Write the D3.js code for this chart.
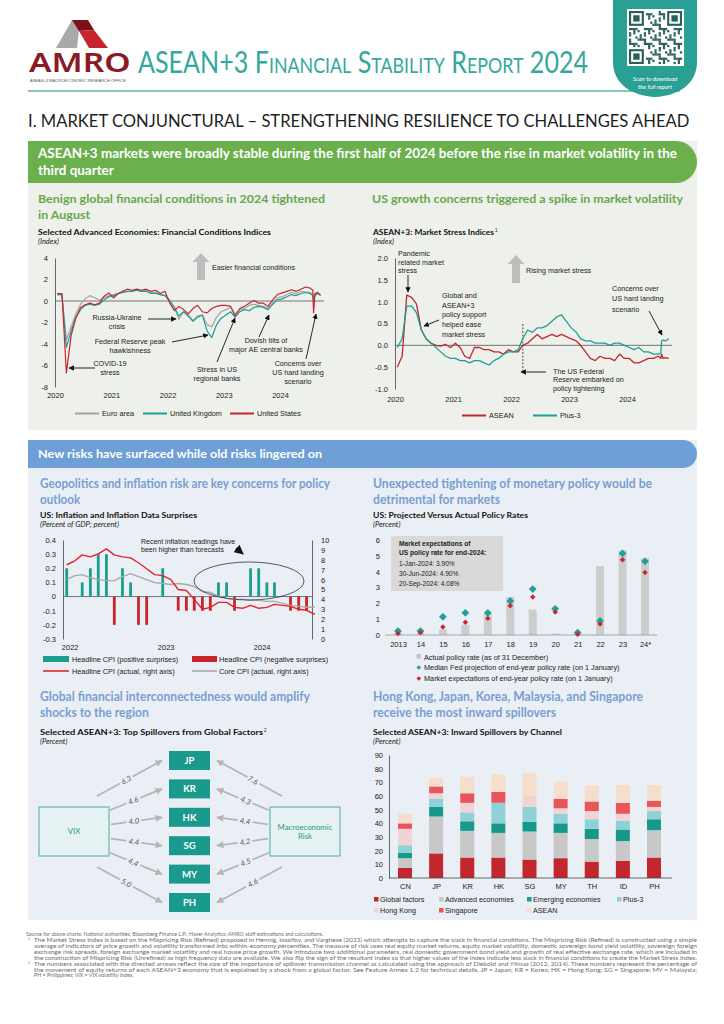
<!DOCTYPE html>
<html>
<head>
<meta charset="utf-8">
<script src="https://cdn.jsdelivr.net/npm/d3@7"></script>
<style>
  body { margin: 0; background: #fff; }
  svg { display: block; }
</style>
</head>
<body>
<script>
// ---------- data ----------
// financial conditions indices: mid-month 2020-01 .. 2024-07, then the Aug/Sep 2024 points
var fciTicks = [-8, -6, -4, -2, 0, 2, 4];
var fciEuro = [0.6, 0.6, -3.6, -2.4, -1.2, -0.3, 0.2, 0.5, 0.3, 0.1, 0.3, 0.5,
  0.6, 0.7, 0.8, 0.9, 0.9, 1.0, 0.9, 1.0, 0.8, 0.8, 0.6, 0.5,
  0.1, -0.6, -1.7, -1.0, -1.3, -1.8, -1.4, -1.3, -2.2, -2.4, -1.5, -1.0,
  -0.8, -0.6, -1.2, -0.8, -0.7, -0.4, -0.3, -0.4, -0.5, -0.7, -0.2, 0.3,
  0.4, 0.6, 0.8, 0.7, 0.9, 0.8, 0.8, 0.6, 0.2, 0.6, 0.7, 0.6];
var fciUK = [0.6, 0.6, -4.3, -2.8, -1.5, -0.8, -0.4, -0.3, -0.4, -0.3, 0.1, 0.4,
  0.5, 0.7, 0.8, 0.9, 0.9, 1.0, 0.9, 0.9, 0.7, 0.7, 0.6, 0.5,
  0.0, -0.6, -1.4, -1.0, -1.4, -1.9, -1.5, -1.3, -2.8, -3.4, -2.2, -1.6,
  -1.3, -1.0, -1.5, -1.0, -0.8, -0.9, -0.6, -0.5, -0.6, -0.8, -0.3, 0.1,
  0.2, 0.4, 0.6, 0.5, 0.7, 0.8, 0.7, 0.5, 0.0, 0.5, 0.7, 0.6];
var fciUS = [0.7, 0.7, -6.7, -3.2, -1.6, -0.6, -0.35, -0.2, -0.35, -0.2, 0.45, 0.75,
  0.3, 0.7, 0.9, 1.1, 1.0, 1.1, 1.0, 1.1, 0.9, 1.0, 0.7, 0.9,
  -0.2, -0.9, -0.5, -0.8, -1.2, -0.7, -0.4, -1.0, -1.1, -0.7, -0.5, -0.4,
  -0.4, -0.5, -1.4, -0.7, -0.5, -0.2, 0.05, -0.2, -0.2, -0.5, 0.1, 0.6,
  0.75, 0.9, 1.05, 0.9, 1.1, 1.3, 1.2, 1.0, -1.1, 0.7, 0.8, 0.5];

// market stress indices, same dates
var msiTicks = [-1, -0.5, 0, 0.5, 1, 1.5, 2];
var msiASEAN = [-0.5, -0.25, 1.15, 1.1, 0.95, 0.35, 0.15, 0.05, 0.0, -0.02, 0.02, -0.05,
  0.05, -0.05, -0.25, -0.3, -0.05, -0.05, -0.1, -0.1, -0.15, -0.15, -0.2, -0.1,
  -0.15, -0.15, 0.0, 0.05, 0.15, 0.25, 0.15, 0.2, 0.25, 0.2, 0.25, 0.2,
  0.15, 0.1, 0.0, -0.15, -0.3, -0.35, -0.25, -0.3, -0.3, -0.35, -0.2, -0.3,
  -0.3, -0.4, -0.4, -0.35, -0.3, -0.3, -0.25, -0.3, -0.2, -0.3, -0.28, -0.3];
var msiPlus3 = [-0.05, 0.15, 0.9, 0.9, 0.75, 0.35, 0.15, 0.05, -0.05, -0.15, -0.25, -0.3,
  -0.3, -0.35, -0.35, -0.4, -0.35, -0.35, -0.4, -0.45, -0.35, -0.3, -0.2, -0.15,
  -0.15, -0.1, 0.15, 0.35, 0.3, 0.4, 0.4, 0.45, 0.55, 0.65, 0.7, 0.55,
  0.4, 0.3, 0.15, 0.1, 0.1, 0.05, 0.05, 0.05, 0.0, 0.05, 0.05, 0.0,
  -0.05, -0.1, -0.05, -0.15, -0.15, -0.2, -0.2, -0.18, 0.1, 0.12, 0.1, 0.15];

// US CPI, monthly Jan 2022 .. Aug 2024
var cpiSurprise = [0.2, 0, 0.1, 0.2, 0.3, 0.3, -0.2, 0.2, 0.1, -0.2, -0.2, 0,
  0.2, 0, -0.1, -0.1, -0.1, -0.1, -0.1, 0.1, 0.1, -0.1, 0, 0.2,
  0.2, 0.1, 0.1, 0, -0.1, -0.1, -0.1, 0];
var cpiHeadline = [7.5, 7.9, 8.5, 8.3, 8.6, 9.1, 8.5, 8.3, 8.2, 7.7, 7.1, 6.5,
  6.4, 6.0, 5.0, 4.9, 4.0, 3.0, 3.2, 3.7, 3.7, 3.2, 3.1, 3.4,
  3.1, 3.2, 3.5, 3.4, 3.3, 3.0, 2.9, 2.5];
var cpiCore = [6.0, 6.4, 6.5, 6.2, 6.0, 5.9, 5.9, 6.3, 6.6, 6.3, 6.0, 5.7,
  5.6, 5.5, 5.6, 5.5, 5.3, 4.8, 4.7, 4.3, 4.1, 4.0, 4.0, 3.9,
  3.9, 3.8, 3.8, 3.6, 3.4, 3.3, 3.2, 3.2];
var cpiLeftTicks = [-0.3, -0.2, -0.1, 0, 0.1, 0.2, 0.3, 0.4];
var cpiRightTicks = [0, 1, 2, 3, 4, 5, 6, 7, 8, 9, 10];

// policy rates
var prYears = ["2013", "14", "15", "16", "17", "18", "19", "20", "21", "22", "23", "24*"];
var prActual = [0.1, 0.1, 0.35, 0.65, 1.35, 2.4, 1.6, 0.1, 0.1, 4.35, 5.35, 4.85];
var prFed = [0.25, 0.25, 1.15, 1.4, 1.4, 2.15, 2.9, 1.65, 0.15, 0.9, 5.15, 4.65];
var prMarket = [0.1, 0.15, 0.5, 0.8, 1.05, 1.85, 2.4, 1.45, 0.05, 0.7, 4.75, 3.95];
var prTicks = [0, 1, 2, 3, 4, 5, 6];
var prNotes = ["1-Jan-2024: 3.90%", "30-Jun-2024: 4.90%", "20-Sep-2024: 4.08%"];

// top spillovers from global factors
var spillEcon = ["JP", "KR", "HK", "SG", "MY", "PH"];
var spillVix = [6.3, 4.6, 4.0, 4.4, 4.4, 5.0];
var spillMacro = [7.6, 4.3, 4.4, 4.2, 4.5, 4.6];

// inward spillovers by channel
var inEcon = ["CN", "JP", "KR", "HK", "SG", "MY", "TH", "ID", "PH"];
var inNames = ["Global factors", "Advanced economies", "Emerging economies", "Plus-3", "Hong Kong", "Singapore", "ASEAN"];
var inColors = ["#c1272d", "#c8c8c8", "#17998a", "#8fd1d7", "#f2d3d3", "#e8565c", "#f5dfcb"];
var inGlobal = [7.5, 18, 15, 15, 13.5, 14.5, 12, 12.5, 15];
var inAdvanced = [7, 27, 19.5, 18, 20.5, 18.5, 16.5, 14.5, 20];
var inEmerging = [4, 7, 7, 7, 7, 7, 7.5, 8.5, 8];
var inPlus3 = [5.5, 6, 6.5, 15, 11, 7, 7, 6.5, 6];
var inHongKong = [12, 4, 7, 0, 8, 4, 6, 5, 3];
var inSingapore = [4, 5, 7, 8, 0, 7, 7, 8, 4.5];
var inASEAN = [7, 6.5, 12, 13, 17, 12.5, 11.5, 13, 11.5];
var inTicks = [0, 10, 20, 30, 40, 50, 60, 70, 80, 90];

var footSource = "Source for above charts: National authorities; Bloomberg Finance L.P.; Haver Analytics; AMRO staff estimations and calculations.";
var footNote1 = [
  "The Market Stress Index is based on the Mispricing Risk (Refined) proposed in Hennig, Iossifov, and Varghese (2023) which attempts to capture the slack in financial conditions. The Mispricing Risk (Refined) is constructed using a simple",
  "average of indicators of price growth and volatility transformed into within-economy percentiles. The measure of risk uses real equity market returns, equity market volatility, domestic sovereign bond yield volatility, sovereign foreign",
  "exchange risk spreads, foreign exchange market volatility and real house price growth. We introduce two additional parameters, real domestic government bond yield and growth of real effective exchange rate, which are included in",
  "the construction of Mispricing Risk (Unrefined) as high frequency data are available. We also flip the sign of the resultant index so that higher values of the index indicate less slack in financial conditions to create the Market Stress Index."];
var footNote2 = [
  "The numbers associated with the directed arrows reflect the size of the importance of spillover transmission channel as calculated using the approach of Diebold and Yilmaz (2012, 2014). These numbers represent the percentage of",
  "the movement of equity returns of each ASEAN+3 economy that is explained by a shock from a global factor. See Feature Annex 1.2 for technical details. JP = Japan; KR = Korea; HK = Hong Kong; SG = Singapore; MY = Malaysia;",
  "PH = Philippines; VIX = VIX volatility index."];

// ---------- helpers ----------
var SANS = "'Liberation Sans', Arial, sans-serif";
var HEAD = "Lato, 'Open Sans', sans-serif";
var RED = "#c4262e", TEAL = "#1d9f95", GREY = "#a3a3a3";

var svg = d3.select('body').append('svg').attr('width', 724).attr('height', 1024);
var defs = svg.append('defs');
var marker = function(id, col, s){
  defs.append('marker').attr('id', id).attr('viewBox', '0 0 10 10')
    .attr('refX', 9).attr('refY', 5).attr('markerWidth', s).attr('markerHeight', s)
    .attr('orient', 'auto')
    .append('path').attr('d', 'M0,0L10,5L0,10z').attr('fill', col);
};
marker('ab', '#111', 6);
marker('ag', '#b5b5b5', 4.2);

var txt = function(g, x, y, s, o){
  o = o || {};
  var t = g.append('text').attr('x', x).attr('y', y).text(s)
    .attr('font-family', o.f || SANS).attr('font-size', o.s || 7)
    .attr('fill', o.c || '#222');
  if(o.b) t.attr('font-weight', 'bold');
  if(o.i) t.attr('font-style', 'italic');
  if(o.a) t.attr('text-anchor', o.a);
  if(o.w) t.attr('textLength', o.w).attr('lengthAdjust', 'spacingAndGlyphs');
  return t;
};
// text squeezed horizontally to width w with a transform
var squeeze = function(g, x, y, s, w, o){
  var t = txt(g, 0, 0, s, o);
  var n = t.node().getComputedTextLength();
  t.attr('transform', 'translate(' + x + ',' + y + ') scale(' + (w / n) + ',1)');
  return t;
};
// lines squeezed by the same ratio as the first one, which is fitted to w
var block = function(g, x, y, lines, dy, w, o){
  var ratio = null;
  lines.forEach(function(s, i){
    var t = txt(g, x, y + i * dy, s, o);
    var n = t.node().getComputedTextLength();
    if(ratio === null) ratio = w / n;
    t.attr('textLength', n * ratio).attr('lengthAdjust', 'spacingAndGlyphs');
  });
};
var arrow = function(g, x1, y1, x2, y2){
  g.append('line').attr('x1', x1).attr('y1', y1).attr('x2', x2).attr('y2', y2)
    .attr('stroke', '#111').attr('stroke-width', 0.9).attr('marker-end', 'url(#ab)');
};
var upArrow = function(g, x, top, bot){
  g.append('path').attr('fill', '#bdbdbd')
    .attr('d', 'M' + (x - 4) + ',' + bot + 'V' + (top + 9) + 'H' + (x - 8.5) + 'L' + x + ',' + top +
      'L' + (x + 8.5) + ',' + (top + 9) + 'H' + (x + 4) + 'V' + bot + 'Z');
};
var styleAxis = function(ax, domainCol){
  ax.attr('font-family', SANS).attr('font-size', 7.5);
  ax.selectAll('text').attr('fill', '#222');
  if(domainCol) ax.select('.domain').attr('stroke', domainCol).attr('stroke-width', 0.8);
  else ax.select('.domain').remove();
};
var drawLine = function(g, xs, ys, dates, vals, col, w){
  g.append('path').datum(vals).attr('fill', 'none').attr('stroke', col)
    .attr('stroke-width', w).attr('stroke-linejoin', 'round')
    .attr('d', d3.line().x(function(d, i){ return xs(dates[i]); }).y(function(d){ return ys(d); }));
};
var legLine = function(g, x, y, col, label){
  g.append('line').attr('x1', x).attr('x2', x + 24).attr('y1', y - 2.5).attr('y2', y - 2.5)
    .attr('stroke', col).attr('stroke-width', 2);
  txt(g, x + 27, y, label, {s: 7.3});
};

var monthDates = function(y0, n){ return d3.range(n).map(function(i){ return new Date(y0, i, 15); }); };
var tailDates = [new Date(2024, 7, 1), new Date(2024, 7, 6), new Date(2024, 7, 15), new Date(2024, 8, 1), new Date(2024, 8, 20)];
var seriesDates = monthDates(2020, 55).concat(tailDates);
var yearDates = [2020, 2021, 2022, 2023, 2024].map(function(y){ return new Date(y, 0, 1); });

// ---------- backgrounds & header ----------
svg.append('rect').attr('x', 28).attr('y', 141).attr('width', 669).attr('height', 289).attr('fill', '#eef0eb');
svg.append('path').attr('d', 'M28,141H676A21,21 0 0 1 676,183H28Z').attr('fill', '#6cb04e');
svg.append('rect').attr('x', 28).attr('y', 440).attr('width', 669).attr('height', 480).attr('fill', '#eaeef5');
svg.append('path').attr('d', 'M28,440H683A14,14 0 0 1 683,468H28Z').attr('fill', '#6e9fd7');

var hd = svg.append('g');
hd.append('path').attr('d', 'M56,48L72,20L80,20L77,48Z').attr('fill', '#a9a9a9');
hd.append('path').attr('d', 'M72,20L88,20L94,30L79,31Z').attr('fill', '#7d1018');
hd.append('path').attr('d', 'M79,31L94,30L108,48L89,48Z').attr('fill', '#c8242e');
squeeze(hd, 29, 72, 'AMRO', 99, {f: "'Noto Sans', sans-serif", s: 27, c: '#8a1b24'}).attr('font-weight', 600);
squeeze(hd, 30, 81.5, 'ASEAN+3 MACROECONOMIC RESEARCH OFFICE', 96, {s: 3.4, c: '#555'});
squeeze(hd, 138, 73, 'ASEAN+3 Financial Stability Report 2024', 454, {f: HEAD, s: 31, c: '#34a89c'})
  .attr('font-variant', 'small-caps');
hd.append('line').attr('x1', 28).attr('x2', 680).attr('y1', 91).attr('y2', 91).attr('stroke', '#5cb5ab').attr('stroke-width', 1.6);
hd.append('path').attr('d', 'M613,0H697V62C697,84 678,96 655,97C632,96 613,84 613,62Z').attr('fill', '#2aa095');
hd.append('rect').attr('x', 627).attr('y', 9).attr('width', 57).attr('height', 57).attr('fill', '#fff');
var qr = hd.append('g').attr('transform', 'translate(629,11)');
var cell = 53 / 25;
var finder = function(cx, cy){
  qr.append('rect').attr('x', cx * cell).attr('y', cy * cell).attr('width', 7 * cell).attr('height', 7 * cell).attr('fill', '#2a5f5a');
  qr.append('rect').attr('x', (cx + 1) * cell).attr('y', (cy + 1) * cell).attr('width', 5 * cell).attr('height', 5 * cell).attr('fill', '#fff');
  qr.append('rect').attr('x', (cx + 2) * cell).attr('y', (cy + 2) * cell).attr('width', 3 * cell).attr('height', 3 * cell).attr('fill', '#2a5f5a');
};
d3.range(25).forEach(function(i){
  d3.range(25).forEach(function(j){
    var inFinder = (i < 8 && j < 8) || (i > 16 && j < 8) || (i < 8 && j > 16);
    if(!inFinder && (i * i * 3 + j * 7 + i * j * 5 + j * j) % 7 < 3)
      qr.append('rect').attr('x', i * cell).attr('y', j * cell).attr('width', cell + 0.1).attr('height', cell + 0.1).attr('fill', '#2a5f5a');
  });
});
finder(0, 0); finder(18, 0); finder(0, 18);
txt(hd, 655, 80.5, 'Scan to download', {f: HEAD, s: 6, c: '#fff', i: true, a: 'middle'});
txt(hd, 655, 88.5, 'the full report', {f: HEAD, s: 6, c: '#fff', i: true, a: 'middle'});

squeeze(svg, 28, 127, 'I. MARKET CONJUNCTURAL \u2013 STRENGTHENING RESILIENCE TO CHALLENGES AHEAD', 662, {f: HEAD, s: 18, c: '#1e1e1e'});

// section headings
block(svg, 38, 158, ['ASEAN+3 markets were broadly stable during the first half of 2024 before the rise in market volatility in the', 'third quarter'], 16.5, 639, {f: HEAD, s: 12.5, c: '#fff', b: true});
block(svg, 38, 203, ['Benign global financial conditions in 2024 tightened', 'in August'], 15.5, 287, {f: HEAD, s: 12, c: '#66a84a', b: true});
block(svg, 372, 203, ['US growth concerns triggered a spike in market volatility'], 15.5, 311, {f: HEAD, s: 12, c: '#66a84a', b: true});
block(svg, 38, 458, ['New risks have surfaced while old risks lingered on'], 15, 284, {f: HEAD, s: 12, c: '#fff', b: true});
block(svg, 40, 488, ['Geopolitics and inflation risk are key concerns for policy', 'outlook'], 15.5, 290, {f: HEAD, s: 12.5, c: '#789fd1', b: true});
block(svg, 373, 488, ['Unexpected tightening of monetary policy would be', 'detrimental for markets'], 15.5, 279, {f: HEAD, s: 12.5, c: '#789fd1', b: true});
block(svg, 40, 701, ['Global financial interconnectedness would amplify', 'shocks to the region'], 15.5, 270, {f: HEAD, s: 12.5, c: '#789fd1', b: true});
block(svg, 373, 701, ['Hong Kong, Japan, Korea, Malaysia, and Singapore', 'receive the most inward spillovers'], 15.5, 270, {f: HEAD, s: 12.5, c: '#789fd1', b: true});

var chartTitle = function(x, y, s, w, sup, unit){
  txt(svg, x, y, s, {f: HEAD, s: 8.4, b: true, c: '#111', w: w});
  if(sup) txt(svg, x + w + 1, y - 3, sup, {s: 4.5, c: '#111'});
  txt(svg, x, y + 8.5, unit, {f: HEAD, s: 7.5, i: true, c: '#222'});
};
chartTitle(38, 235, 'Selected Advanced Economies: Financial Conditions Indices', 233, null, '(Index)');
chartTitle(373, 235, 'ASEAN+3: Market Stress Indices', 121, '1', '(Index)');
chartTitle(40, 518, 'US: Inflation and Inflation Data Surprises', 157, null, '(Percent of GDP; percent)');
chartTitle(373, 518, 'US: Projected Versus Actual Policy Rates', 155, null, '(Percent)');
chartTitle(40, 735, 'Selected ASEAN+3: Top Spillovers from Global Factors', 223, '2', '(Percent)');
chartTitle(373, 735, 'Selected ASEAN+3: Inward Spillovers by Channel', 189, null, '(Percent)');

// ---------- chart 1: financial conditions ----------
var g1 = svg.append('g');
var x1 = d3.scaleTime().domain([new Date(2020, 0, 1), new Date(2024, 0, 1)]).range([55, 280]);
var y1 = d3.scaleLinear().domain([-8, 4]).range([387, 258]);
g1.append('line').attr('x1', 55).attr('x2', 324).attr('y1', y1(0)).attr('y2', y1(0)).attr('stroke', '#555').attr('stroke-width', 0.8);
styleAxis(g1.append('g').attr('transform', 'translate(55,0)')
  .call(d3.axisLeft(y1).tickValues(fciTicks).tickSize(0).tickPadding(7).tickFormat(String)), '#444');
styleAxis(g1.append('g').attr('transform', 'translate(0,387)')
  .call(d3.axisBottom(x1).tickValues(yearDates).tickSize(0).tickPadding(6).tickFormat(d3.timeFormat('%Y'))));
drawLine(g1, x1, y1, seriesDates, fciEuro, GREY, 1.2);
drawLine(g1, x1, y1, seriesDates, fciUK, TEAL, 1.2);
drawLine(g1, x1, y1, seriesDates, fciUS, RED, 1.2);
upArrow(g1, 201, 253, 280);
txt(g1, 212, 270, 'Easier financial conditions', {s: 7.2});
txt(g1, 117, 320, 'Russia-Ukraine', {s: 7.2, a: 'middle'});
txt(g1, 117, 329, 'crisis', {s: 7.2, a: 'middle'});
arrow(g1, 148, 319, 176, 319);
txt(g1, 130, 344, 'Federal Reserve peak', {s: 7.2, a: 'middle'});
txt(g1, 130, 353, 'hawkishness', {s: 7.2, a: 'middle'});
arrow(g1, 172, 342, 208, 335);
txt(g1, 110, 366, 'COVID-19', {s: 7.2, a: 'middle'});
txt(g1, 110, 375, 'stress', {s: 7.2, a: 'middle'});
arrow(g1, 95, 368, 69, 368);
txt(g1, 217, 372, 'Stress in US', {s: 7.2, a: 'middle'});
txt(g1, 217, 381, 'regional banks', {s: 7.2, a: 'middle'});
arrow(g1, 217, 362, 235, 318);
txt(g1, 266, 343, 'Dovish tilts of', {s: 7.2, a: 'middle'});
txt(g1, 266, 352, 'major AE central banks', {s: 7.2, a: 'middle'});
arrow(g1, 259, 337, 269, 315);
txt(g1, 298, 366, 'Concerns over', {s: 7.2, a: 'middle'});
txt(g1, 298, 375, 'US hard landing', {s: 7.2, a: 'middle'});
txt(g1, 298, 384, 'scenario', {s: 7.2, a: 'middle'});
arrow(g1, 306, 359, 316, 314);
legLine(g1, 75, 416, GREY, 'Euro area');
legLine(g1, 143, 416, TEAL, 'United Kingdom');
legLine(g1, 230, 416, RED, 'United States');

// ---------- chart 2: market stress ----------
var g2 = svg.append('g');
var x2 = d3.scaleTime().domain([new Date(2020, 0, 1), new Date(2024, 0, 1)]).range([395, 627]);
var y2 = d3.scaleLinear().domain([-1, 2]).range([389, 258]);
g2.append('line').attr('x1', 395).attr('x2', 672).attr('y1', y2(0)).attr('y2', y2(0)).attr('stroke', '#555').attr('stroke-width', 0.8);
styleAxis(g2.append('g').attr('transform', 'translate(395,0)')
  .call(d3.axisLeft(y2).tickValues(msiTicks).tickSize(0).tickPadding(7).tickFormat(function(v){ return v.toFixed(1); })), '#444');
styleAxis(g2.append('g').attr('transform', 'translate(0,389)')
  .call(d3.axisBottom(x2).tickValues(yearDates).tickSize(0).tickPadding(8).tickFormat(d3.timeFormat('%Y'))));
var tight = x2(new Date(2022, 2, 16));
g2.append('line').attr('x1', tight).attr('x2', tight).attr('y1', 324).attr('y2', 372)
  .attr('stroke', '#222').attr('stroke-width', 0.8).attr('stroke-dasharray', '2,1.5');
drawLine(g2, x2, y2, seriesDates, msiASEAN, RED, 1.3);
drawLine(g2, x2, y2, seriesDates, msiPlus3, TEAL, 1.3);
upArrow(g2, 516, 255, 283);
txt(g2, 526, 273, 'Rising market stress', {s: 7.2});
['Pandemic', 'related market', 'stress'].forEach(function(s, i){ txt(g2, 398, 256 + i * 8.7, s, {s: 7.2}); });
arrow(g2, 408, 275, 408, 292);
['Global and', 'ASEAN+3', 'policy support', 'helped ease', 'market stress'].forEach(function(s, i){ txt(g2, 442, 298 + i * 9.7, s, {s: 7.2}); });
arrow(g2, 439, 320, 424, 326);
['Concerns over', 'US hard landing', 'scenario'].forEach(function(s, i){ txt(g2, 612, 291 + i * 10.3, s, {s: 7.2}); });
arrow(g2, 649, 311, 662, 335);
['The US Federal', 'Reserve embarked on', 'policy tightening'].forEach(function(s, i){ txt(g2, 553, 374 + i * 8.3, s, {s: 7.2}); });
arrow(g2, 546, 372, 521, 372);
legLine(g2, 462, 418, RED, 'ASEAN');
legLine(g2, 533, 418, TEAL, 'Plus-3');

// ---------- chart 3: inflation ----------
var g3 = svg.append('g');
var cpiDates = d3.range(cpiSurprise.length).map(function(i){ return new Date(2022, i, 1); });
var x3 = d3.scaleTime().domain([new Date(2022, 0, 1), new Date(2024, 0, 1)]).range([66.7, 258.7]);
var y3l = d3.scaleLinear().domain([-0.3, 0.4]).range([639, 540]);
var y3r = d3.scaleLinear().domain([0, 10]).range([639, 540]);
styleAxis(g3.append('g').attr('transform', 'translate(63,0)')
  .call(d3.axisLeft(y3l).tickValues(cpiLeftTicks).tickSize(0).tickPadding(7).tickFormat(function(v){ return v === 0 ? '0' : v.toFixed(1); })), '#444');
styleAxis(g3.append('g').attr('transform', 'translate(312,0)')
  .call(d3.axisRight(y3r).tickValues(cpiRightTicks).tickSize(0).tickPadding(9).tickFormat(String)), '#444');
styleAxis(g3.append('g').attr('transform', 'translate(3,643)')
  .call(d3.axisBottom(x3).tickValues([new Date(2022, 0, 1), new Date(2023, 0, 1), new Date(2024, 0, 1)]).tickSize(0).tickPadding(2).tickFormat(d3.timeFormat('%Y'))));
g3.append('line').attr('x1', 63).attr('x2', 312).attr('y1', y3l(0)).attr('y2', y3l(0)).attr('stroke', '#555').attr('stroke-width', 0.8);
g3.selectAll('rect.sur').data(cpiSurprise).enter().append('rect').attr('class', 'sur')
  .attr('x', function(d, i){ return x3(cpiDates[i]) - 1.4; })
  .attr('width', 2.8)
  .attr('y', function(d){ return y3l(Math.max(d, 0)); })
  .attr('height', function(d){ return Math.abs(y3l(d) - y3l(0)); })
  .attr('fill', function(d){ return d >= 0 ? '#1a9e8f' : '#c8262c'; });
drawLine(g3, x3, y3r, cpiDates, cpiCore, '#a9a9a9', 1.4);
drawLine(g3, x3, y3r, cpiDates, cpiHeadline, '#e2262b', 1.4);
g3.append('ellipse').attr('cx', 249).attr('cy', 581).attr('rx', 55).attr('ry', 19)
  .attr('fill', 'none').attr('stroke', '#333').attr('stroke-width', 0.8);
txt(g3, 141, 544, 'Recent inflation readings have', {s: 7});
txt(g3, 141, 552, 'been higher than forecasts', {s: 7});
g3.append('line').attr('x1', 236).attr('y1', 548).attr('x2', 243).attr('y2', 554)
  .attr('stroke', '#111').attr('stroke-width', 1.6).attr('marker-end', 'url(#ab)');
g3.append('rect').attr('x', 43).attr('y', 656).attr('width', 26).attr('height', 6).attr('fill', '#1a9e8f');
txt(g3, 72, 662, 'Headline CPI (positive surprises)', {s: 7.3});
g3.append('rect').attr('x', 192).attr('y', 656).attr('width', 25).attr('height', 6).attr('fill', '#c8262c');
txt(g3, 219, 662, 'Headline CPI (negative surprises)', {s: 7.3});
g3.append('line').attr('x1', 43).attr('x2', 69).attr('y1', 671).attr('y2', 671).attr('stroke', '#e2262b').attr('stroke-width', 1.6);
txt(g3, 72, 673.5, 'Headline CPI (actual, right axis)', {s: 7.3});
g3.append('line').attr('x1', 192).attr('x2', 217).attr('y1', 671).attr('y2', 671).attr('stroke', '#a9a9a9').attr('stroke-width', 1.6);
txt(g3, 219, 673.5, 'Core CPI (actual, right axis)', {s: 7.3});

// ---------- chart 4: policy rates ----------
var g4 = svg.append('g');
var x4 = d3.scalePoint().domain(prYears).range([398, 645]);
var y4 = d3.scaleLinear().domain([0, 6]).range([635, 540]);
styleAxis(g4.append('g').attr('transform', 'translate(386,0)')
  .call(d3.axisLeft(y4).tickValues(prTicks).tickSize(0).tickPadding(6).tickFormat(String)));
g4.selectAll('rect.act').data(prActual).enter().append('rect').attr('class', 'act')
  .attr('x', function(d, i){ return x4(prYears[i]) - 4; }).attr('width', 8)
  .attr('y', function(d){ return y4(d); }).attr('height', function(d){ return y4(0) - y4(d); })
  .attr('fill', '#cdcdcd');
g4.append('line').attr('x1', 385).attr('x2', 657).attr('y1', y4(0)).attr('y2', y4(0)).attr('stroke', '#999').attr('stroke-width', 0.8);
styleAxis(g4.append('g').attr('transform', 'translate(0,640)')
  .call(d3.axisBottom(x4).tickSize(0).tickPadding(2)));
var diamond = function(size){ return d3.symbol().type(d3.symbolSquare).size(size)(); };
g4.selectAll('path.fed').data(prFed).enter().append('path').attr('class', 'fed')
  .attr('d', diamond(30)).attr('fill', '#1fa199')
  .attr('transform', function(d, i){ return 'translate(' + x4(prYears[i]) + ',' + y4(d) + ') rotate(45)'; });
g4.selectAll('path.mkt').data(prMarket).enter().append('path').attr('class', 'mkt')
  .attr('d', diamond(15)).attr('fill', '#c8282e')
  .attr('transform', function(d, i){ return 'translate(' + x4(prYears[i]) + ',' + y4(d) + ') rotate(45)'; });
g4.append('rect').attr('x', 391).attr('y', 536).attr('width', 112).attr('height', 55).attr('fill', '#d9d9d9');
txt(g4, 399, 546, 'Market expectations of', {s: 6.6, b: true});
txt(g4, 399, 554.5, 'US policy rate for end-2024:', {s: 6.6, b: true});
prNotes.forEach(function(s, i){ txt(g4, 399, 566 + i * 10, s, {s: 6.6}); });
g4.append('rect').attr('x', 416.5).attr('y', 654).attr('width', 4.5).attr('height', 4.5).attr('fill', '#c6c6c6');
txt(g4, 424, 659.5, 'Actual policy rate (as of 31 December)', {s: 7.3});
g4.append('path').attr('d', diamond(11)).attr('fill', '#1fa199').attr('transform', 'translate(418.8,667.5) rotate(45)');
txt(g4, 424, 670, 'Median Fed projection of end-year policy rate (on 1 January)', {s: 7.3});
g4.append('path').attr('d', diamond(11)).attr('fill', '#c8282e').attr('transform', 'translate(418.8,678.5) rotate(45)');
txt(g4, 424, 681, 'Market expectations of end-year policy rate (on 1 January)', {s: 7.3});

// ---------- chart 5: spillover diagram ----------
var g5 = svg.append('g');
var yS = d3.scalePoint().domain(spillEcon).range([760.5, 902.5]);
var boxW = 41, boxH = 19, cx = 189.5, midY = 831.5;
var side = function(x0, label){
  g5.append('rect').attr('x', x0).attr('y', 807).attr('width', 70).attr('height', 49)
    .attr('fill', '#e6f2f1').attr('stroke', '#3aa59a').attr('stroke-width', 0.9);
  label.forEach(function(s, i){
    txt(g5, x0 + 35, 834 - (label.length - 1) * 4.5 + i * 9, s, {f: HEAD, s: 7.8, c: '#23988d', a: 'middle'});
  });
};
side(39, ['VIX']);
side(270, ['Macroeconomic', 'Risk']);
var spillArrow = function(xa, ya, xb, yb, v){
  g5.append('line').attr('x1', xa).attr('y1', ya).attr('x2', xb).attr('y2', yb)
    .attr('stroke', '#b5b5b5').attr('stroke-width', 1.7).attr('marker-end', 'url(#ag)');
  var ang = Math.atan2(yb - ya, xb - xa) * 180 / Math.PI;
  if(ang > 90) ang -= 180;
  if(ang < -90) ang += 180;
  var mx = xa + (xb - xa) * 0.45, my = ya + (yb - ya) * 0.45;
  g5.append('text').attr('transform', 'translate(' + mx + ',' + my + ') rotate(' + ang + ')')
    .attr('dy', '0.35em').attr('text-anchor', 'middle')
    .attr('font-family', HEAD).attr('font-size', 7.6).attr('font-style', 'italic').attr('fill', '#555')
    .attr('stroke', '#eaeef5').attr('stroke-width', 5).attr('paint-order', 'stroke')
    .text(v.toFixed(1));
};
spillEcon.forEach(function(e, i){
  var ty = yS(e), sy = midY + 0.5 * (ty - midY);
  var off = Math.max(0, Math.abs(sy - midY) - 20) * 0.9;
  spillArrow(111 - off, sy, cx - boxW / 2 - 7, ty, spillVix[i]);
  spillArrow(268 + off, sy, cx + boxW / 2 + 7, ty, spillMacro[i]);
});
g5.selectAll('rect.econ').data(spillEcon).enter().append('rect').attr('class', 'econ')
  .attr('x', cx - boxW / 2).attr('y', function(d){ return yS(d) - boxH / 2; })
  .attr('width', boxW).attr('height', boxH).attr('fill', '#1a9a8c');
g5.selectAll('text.econ').data(spillEcon).enter().append('text').attr('class', 'econ')
  .attr('x', cx).attr('y', function(d){ return yS(d) + 3.5; }).attr('text-anchor', 'middle')
  .attr('font-family', HEAD).attr('font-size', 9.5).attr('font-weight', 'bold').attr('fill', '#fff')
  .text(function(d){ return d; });

// ---------- chart 6: inward spillovers ----------
var g6 = svg.append('g');
var inTable = inEcon.map(function(e, i){
  return {econ: e, k0: inGlobal[i], k1: inAdvanced[i], k2: inEmerging[i], k3: inPlus3[i], k4: inHongKong[i], k5: inSingapore[i], k6: inASEAN[i]};
});
var inKeys = ['k0', 'k1', 'k2', 'k3', 'k4', 'k5', 'k6'];
var x6 = d3.scalePoint().domain(inEcon).range([405, 654]);
var y6 = d3.scaleLinear().domain([0, 90]).range([878, 755]);
styleAxis(g6.append('g').attr('transform', 'translate(389,0)')
  .call(d3.axisLeft(y6).tickValues(inTicks).tickSize(0).tickPadding(6).tickFormat(String)), '#444');
var stacked = d3.stack().keys(inKeys)(inTable);
g6.selectAll('g.layer').data(stacked).enter().append('g').attr('class', 'layer')
  .attr('fill', function(d, i){ return inColors[i]; })
  .selectAll('rect').data(function(d){ return d; }).enter().append('rect')
  .attr('x', function(d){ return x6(d.data.econ) - 7; }).attr('width', 14)
  .attr('y', function(d){ return y6(d[1]); })
  .attr('height', function(d){ return y6(d[0]) - y6(d[1]); });
g6.append('line').attr('x1', 389).attr('x2', 672).attr('y1', y6(0)).attr('y2', y6(0)).attr('stroke', '#444').attr('stroke-width', 0.8);
styleAxis(g6.append('g').attr('transform', 'translate(0,882)')
  .call(d3.axisBottom(x6).tickSize(0).tickPadding(2)));
var legX = [374, 439, 527, 617, 374, 439, 527];
inNames.forEach(function(n, i){
  var ly = i < 4 ? 902 : 913;
  g6.append('rect').attr('x', legX[i]).attr('y', ly - 5).attr('width', 4.5).attr('height', 4.5).attr('fill', inColors[i]);
  txt(g6, legX[i] + 6, ly, n, {s: 7.2});
});

// ---------- footer ----------
var ft = svg.append('g');
var FOOT = '#6e6e6e';
txt(ft, 26, 936, footSource, {f: HEAD, s: 5.3, c: FOOT});
txt(ft, 28, 940, '1', {s: 3.6, c: FOOT});
footNote1.forEach(function(s, i){ txt(ft, 34, 942 + i * 5.9, s, {f: HEAD, s: 5.3, c: FOOT, w: 663}); });
txt(ft, 28, 963.5, '2', {s: 3.6, c: FOOT});
footNote2.forEach(function(s, i){
  txt(ft, 34, 965.6 + i * 5.9, s, {f: HEAD, s: 5.3, c: FOOT, w: i < 2 ? 663 : null});
});
</script>
</body>
</html>
